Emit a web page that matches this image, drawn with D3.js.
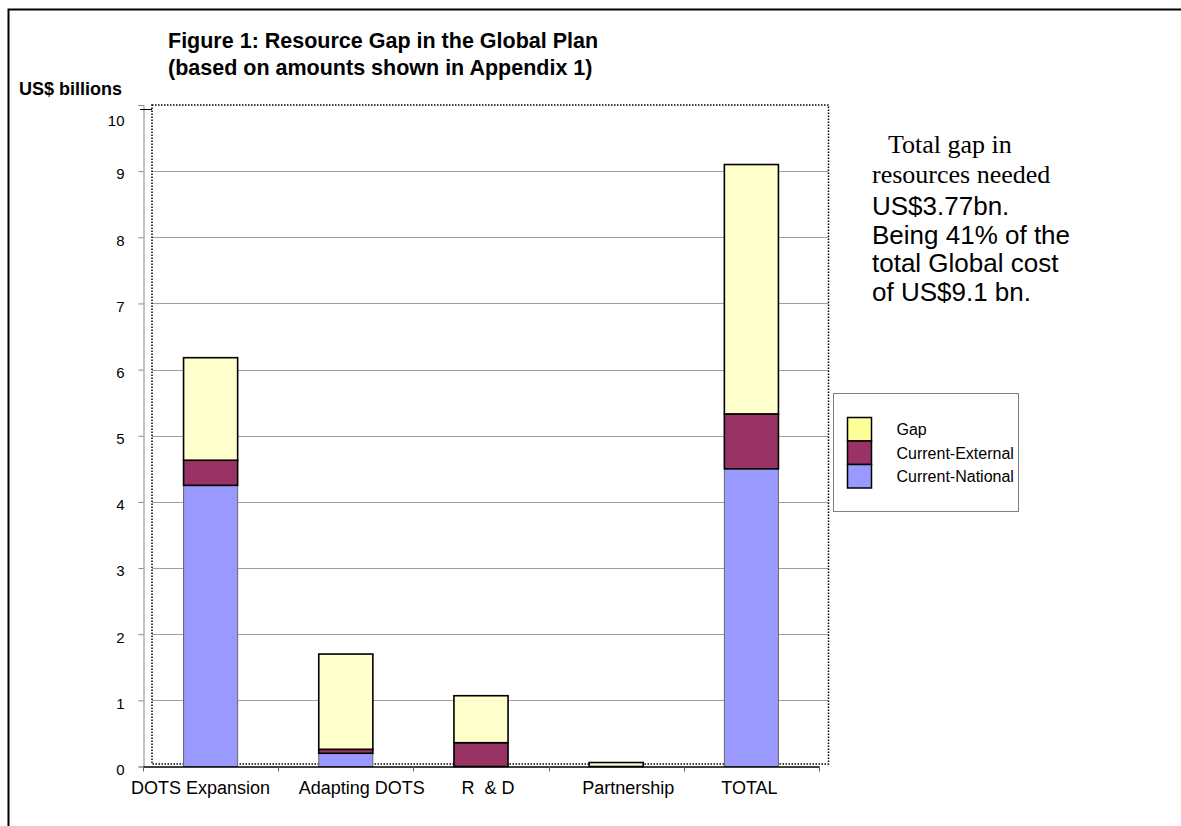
<!DOCTYPE html>
<html>
<head>
<meta charset="utf-8">
<script src="https://cdn.jsdelivr.net/npm/d3@7"></script>
<style>
  body { margin: 0; background: #fff; }
  svg { display: block; font-family: Arial, "Liberation Sans", sans-serif; }
</style>
</head>
<body>
<svg id="chart"></svg>
<script>
const width = 1181;
const height = 826;

// data (US$ billions)
const categories = ['DOTS Expansion', 'Adapting DOTS', 'R  & D', 'Partnership', 'TOTAL'];
const national = [4.25, 0.2, 0, 0, 4.5];
const external = [0.38, 0.06, 0.36, 0, 0.83];
const gap = [1.55, 1.44, 0.71, 0.06, 3.77];
const seriesKeys = ['Current-National', 'Current-External', 'Gap'];
const legendOrder = ['Gap', 'Current-External', 'Current-National'];
const yTicks = [0, 1, 2, 3, 4, 5, 6, 7, 8, 9, 10];
const noteSerif = ['Total gap in', 'resources needed'];
const noteSans = ['US$3.77bn.', 'Being 41% of the', 'total Global cost', 'of US$9.1 bn.'];

// the category labels in the original sit a little off their band centres
const labelNudge = [-10, 16, 7, 12, -2];

const barColor = {
    'Current-National': '#9999ff',
    'Current-External': '#993366',
    'Gap': '#ffffcc'
};
const legendColor = {
    'Current-National': '#9999ff',
    'Current-External': '#993366',
    'Gap': '#ffff99'
};

const svg = d3.select('#chart')
    .attr('width', width)
    .attr('height', height);

// outer frame of the figure
svg.append('rect')
    .attr('x', 8.5)
    .attr('y', 9.5)
    .attr('width', 1200)
    .attr('height', 900)
    .attr('fill', 'none')
    .attr('stroke', '#000')
    .attr('stroke-width', 2);

const rows = categories.map((c, i) => ({
    category: c,
    'Current-National': national[i],
    'Current-External': external[i],
    'Gap': gap[i]
}));

const x = d3.scaleBand()
    .domain(categories)
    .range([143, 819])
    .paddingInner(0)
    .paddingOuter(0);

const y = d3.scaleLinear()
    .domain([0, 10])
    .range([766.5, 105]);

// plot area: grid + dotted border
const plotLeft = 152, plotRight = 828.5;

svg.append('g')
    .selectAll('line')
    .data(yTicks.filter(d => d > 0 && d < 10))
    .enter().append('line')
    .attr('x1', plotLeft)
    .attr('x2', plotRight)
    .attr('y1', d => Math.round(y(d)) + 0.5)
    .attr('y2', d => Math.round(y(d)) + 0.5)
    .attr('stroke', '#a0a0a0')
    .attr('stroke-width', 1);

svg.append('rect')
    .attr('x', plotLeft)
    .attr('y', y(10))
    .attr('width', plotRight - plotLeft)
    .attr('height', y(0) - 2.5 - y(10))
    .attr('fill', 'none')
    .attr('stroke', '#000')
    .attr('stroke-width', 1.5)
    .attr('stroke-dasharray', '1.5,1.5');

// y axis
const yAxis = svg.append('g')
    .attr('transform', 'translate(143.5,0)')
    .call(d3.axisLeft(y).tickValues(yTicks).tickSize(5).tickPadding(14));
yAxis.select('.domain').attr('stroke', '#888');
yAxis.selectAll('.tick line').attr('stroke', '#888');
yAxis.selectAll('text')
    .attr('font-size', 15)
    .attr('font-family', 'Arial, "Liberation Sans", sans-serif')
    .attr('fill', '#000')
    .attr('dy', d => d === 10 ? '1.38em' : '0.52em');

// short black cap at the top of the value axis
svg.append('line')
    .attr('x1', 140)
    .attr('x2', 152)
    .attr('y1', y(10) + 4.5)
    .attr('y2', y(10) + 4.5)
    .attr('stroke', '#000');

// stacked bars
const stack = d3.stack().keys(seriesKeys);
const layers = stack(rows);
const barW = x.bandwidth() * 0.4;

const layer_g = svg.append('g')
    .selectAll('g')
    .data(layers)
    .enter().append('g')
    .attr('fill', d => barColor[d.key])
    .attr('stroke', d => d.key === 'Current-National' ? '#666' : '#000')
    .attr('stroke-width', d => d.key === 'Current-National' ? 1 : 1.6);

layer_g.selectAll('rect')
    .data(d => d.filter(p => p[1] - p[0] > 0))
    .enter().append('rect')
    .attr('x', d => x(d.data.category) + (x.bandwidth() - barW) / 2)
    .attr('width', barW)
    .attr('y', d => y(d[1]))
    .attr('height', d => y(d[0]) - y(d[1]));

// x axis
const xAxis = svg.append('g')
    .attr('transform', `translate(0,${y(0)})`)
    .call(d3.axisBottom(x).tickSize(0).tickPadding(15));
xAxis.select('.domain').attr('stroke', '#000').attr('stroke-width', 1.5);
xAxis.selectAll('text')
    .attr('font-size', 18)
    .attr('font-family', 'Arial, "Liberation Sans", sans-serif')
    .attr('fill', '#000')
    .attr('dx', (d, i) => labelNudge[i])
    .style('white-space', 'pre');

svg.append('g')
    .selectAll('line')
    .data(categories.map(c => x(c)).concat([x.range()[1]]))
    .enter().append('line')
    .attr('x1', d => Math.round(d) + 0.5)
    .attr('x2', d => Math.round(d) + 0.5)
    .attr('y1', y(0))
    .attr('y2', y(0) + 5)
    .attr('stroke', '#666');

// titles
svg.append('text')
    .attr('x', 168)
    .attr('y', 48)
    .attr('font-size', 21.5)
    .attr('font-weight', 'bold')
    .text('Figure 1: Resource Gap in the Global Plan');
svg.append('text')
    .attr('x', 168)
    .attr('y', 75)
    .attr('font-size', 21.5)
    .attr('font-weight', 'bold')
    .text('(based on amounts shown in Appendix 1)');
svg.append('text')
    .attr('x', 19)
    .attr('y', 95)
    .attr('font-size', 18)
    .attr('font-weight', 'bold')
    .text('US$ billions');

// legend
const legend = svg.append('g').attr('transform', 'translate(833.5,393.5)');
legend.append('rect')
    .attr('width', 185)
    .attr('height', 118)
    .attr('fill', '#fff')
    .attr('stroke', '#808080');
const item = legend.selectAll('g.item')
    .data(legendOrder)
    .enter().append('g')
    .attr('class', 'item')
    .attr('transform', (d, i) => `translate(14,${24 + i * 23.5})`);
item.append('rect')
    .attr('width', 24)
    .attr('height', 23.5)
    .attr('fill', d => legendColor[d])
    .attr('stroke', '#000')
    .attr('stroke-width', 1.5);
item.append('text')
    .attr('x', 49)
    .attr('y', 12)
    .attr('dy', '0.35em')
    .attr('font-size', 16)
    .text(d => d);

// note at the right
const note = svg.append('g');
note.selectAll('text.serif')
    .data(noteSerif)
    .enter().append('text')
    .attr('class', 'serif')
    .attr('x', (d, i) => i === 0 ? 888 : 872)
    .attr('y', (d, i) => 153 + i * 30)
    .attr('font-family', '"Liberation Serif", "Times New Roman", serif')
    .attr('font-size', 26)
    .text(d => d);
note.selectAll('text.sans')
    .data(noteSans)
    .enter().append('text')
    .attr('class', 'sans')
    .attr('x', 872)
    .attr('y', (d, i) => 215 + i * 28.5)
    .attr('font-size', 26)
    .text(d => d);
</script>
</body>
</html>
